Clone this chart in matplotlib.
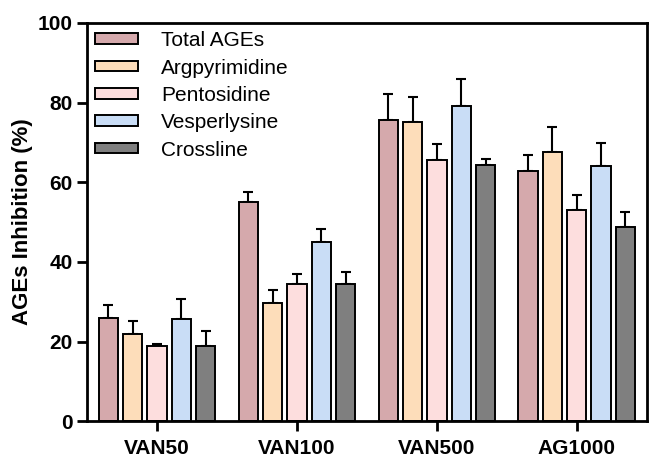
import numpy as np
import matplotlib
matplotlib.use("Agg")
import matplotlib.pyplot as plt

plt.rcParams['font.family'] = ['Liberation Sans', 'DejaVu Sans']

groups = ["VAN50", "VAN100", "VAN500", "AG1000"]
series = ["Total AGEs", "Argpyrimidine", "Pentosidine", "Vesperlysine", "Crossline"]
colors = ["#D5A9AC", "#FDDDBA", "#FDDEDE", "#C9DDF6", "#7F7F7F"]

# mean values per series (rows) and group (columns)
means = [
    [26.0, 55.0, 75.6, 62.9],   # Total AGEs
    [21.8, 29.7, 75.0, 67.5],   # Argpyrimidine
    [19.0, 34.5, 65.7, 53.0],   # Pentosidine
    [25.6, 45.0, 79.2, 64.2],   # Vesperlysine
    [18.8, 34.5, 64.3, 48.8],   # Crossline
]
# upper error (SD)
errs = [
    [3.1, 2.5, 6.6, 3.9],
    [3.4, 3.3, 6.4, 6.3],
    [0.5, 2.6, 3.8, 3.8],
    [5.1, 3.3, 6.6, 5.7],
    [3.8, 3.0, 1.5, 3.7],
]

fig = plt.figure(figsize=(6.5, 4.57), dpi=100)
ax = fig.add_axes([0.134, 0.078, 0.861, 0.872])

x = np.arange(len(groups))
step = 0.174
width = 0.138
for i, name in enumerate(series):
    pos = x + (i - 2) * step
    ax.bar(pos, means[i], width, color=colors[i], edgecolor="black",
           linewidth=1.4, label=name, zorder=2)
    ax.errorbar(pos, means[i], yerr=[np.zeros(len(groups)), errs[i]],
                fmt="none", ecolor="black", elinewidth=1.5, capsize=3.8,
                capthick=1.5, zorder=1)

ax.set_xlim(-0.5, 3.5)
ax.set_ylim(0, 100)
ax.set_yticks([0, 20, 40, 60, 80, 100])
ax.set_xticks(x)
ax.set_xticklabels(groups)
ax.set_ylabel("AGEs Inhibition (%)", fontsize=16, fontweight="bold", labelpad=3)

for lab in ax.get_xticklabels() + ax.get_yticklabels():
    lab.set_fontweight("bold")
    lab.set_fontsize(15)
for sp in ax.spines.values():
    sp.set_linewidth(2)
ax.tick_params(direction="out", length=7.5, width=2, pad=3)
ax.tick_params(axis="x", pad=5)

ax.legend(loc="upper left", frameon=False, fontsize=15,
          handlelength=2.05, handleheight=0.4, handletextpad=1.1,
          labelspacing=0.4, borderaxespad=0.0, bbox_to_anchor=(0.0, 1.0))

fig.savefig("out.png", dpi=100)
